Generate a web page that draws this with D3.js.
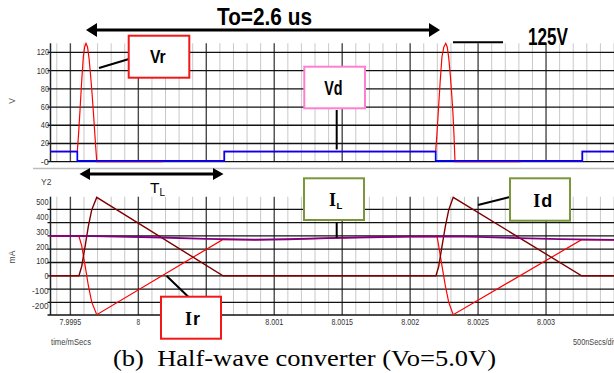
<!DOCTYPE html>
<html>
<head>
<meta charset="utf-8">
<script src="https://cdn.jsdelivr.net/npm/d3@7"></script>
<style>
  body { margin: 0; background: #fff; }
  svg { display: block; }
</style>
</head>
<body>
<svg id="chart" width="614" height="373"></svg>
<script>
// time axis (ms)
const timeTicks  = [7.9995, 8, 8.0005, 8.001, 8.0015, 8.002, 8.0025, 8.003];
// 8.0005 sits under the Ir note in the original, so no label there
const timeLabels = ['7.9995', '8', '', '8.001', '8.0015', '8.002', '8.0025', '8.003'];
// top panel (V)
const voltTicks  = [0, 20, 40, 60, 80, 100, 120];
const voltLabels = ['-0', '20', '40', '60', '80', '100', '120'];
// bottom panel (mA)
const mATicks  = [-200, -100, 0, 100, 200, 300, 400, 500];
const mALabels = ['-200', '-100', '0', '100', '200', '300', '400', '500'];

// [time ms, volts]
const vd = [
  [7.99935, 11], [7.999551, 11], [7.999551, 1], [8.0006325, 1], [8.0006325, 11],
  [8.002188, 11], [8.002188, 1], [8.003267, 1], [8.003267, 11], [8.0035, 11]
];
const vr = [
  [7.99935, 11.5], [7.999551, 11.5], [7.99956, 30], [7.999571, 57], [7.999583, 88],
  [7.999595, 115], [7.999605, 126], [7.999615, 130], [7.999626, 126], [7.999637, 114],
  [7.999648, 96], [7.999659, 76], [7.99967, 53], [7.999681, 28], [7.999694, 0],
  [8.000174, 0], [8.000174, 1], [8.0006325, 1], [8.0006325, 11.5], [8.002188, 11.5],
  [8.002197, 30], [8.002208, 57], [8.002221, 88], [8.002234, 115], [8.002248, 126],
  [8.002262, 130], [8.002273, 126], [8.002284, 114], [8.002295, 96], [8.002305, 76],
  [8.002315, 53], [8.002323, 28], [8.00233, 0], [8.002808, 0], [8.002808, 1],
  [8.003267, 1], [8.003267, 11.5], [8.0035, 11.5]
];

// [time ms, mA]
const id = [
  [7.99935, 0], [7.999563, 0], [7.999583, 70], [7.999608, 220], [7.999632, 371],
  [7.999657, 496], [7.999694, 590], [8.000623, 0], [8.00219, 0], [8.00221, 70],
  [8.002234, 220], [8.002259, 371], [8.002284, 496], [8.002317, 590], [8.003262, 0],
  [8.0035, 0]
];
const il = [
  [7.99935, 300], [7.99967, 298], [8.0001, 290], [8.0005, 278], [8.00086, 271],
  [8.0011, 275], [8.0014, 283], [8.0017, 290], [8.002, 295], [8.0023, 297],
  [8.0025, 292], [8.0028, 284], [8.0031, 276], [8.0035, 270]
];
const ir = [
  [7.99935, 300], [7.999556, 298], [7.999563, 297], [7.999583, 228], [7.999608, 78],
  [7.999632, -73], [7.999657, -198], [7.999694, -293], [8.000623, 274], [8.00086, 271],
  [8.0011, 275], [8.0014, 283], [8.0017, 290], [8.002, 295], [8.002198, 296],
  [8.00221, 226], [8.002234, 76], [8.002259, -75], [8.002284, -200], [8.002317, -293],
  [8.003262, 272], [8.0035, 270]
];

const svg = d3.select('#chart');
const narrow = "'Liberation Sans Narrow', 'Liberation Sans', Arial, sans-serif";

const x = d3.scaleLinear().domain([7.99935, 8.0035]).range([50, 614]);
const yTop = d3.scaleLinear().domain([0, 130]).range([161.7, 43.3]);
const yBot = d3.scaleLinear().domain([-295, 595]).range([315, 196.7]);
// tick text sits a little off the grid in the original
const yBotLabel = d3.scaleLinear().domain([-200, 500]).range([306, 202]);

const minorTicks = d3.range(7.9994, 8.00351, 0.0001)
  .filter(t => !timeTicks.some(m => Math.abs(m - t) < 1e-7));

function grid(y0, y1) {
  const g = svg.append('g');
  g.selectAll('line.minor').data(minorTicks).join('line')
    .attr('x1', d => x(d)).attr('x2', d => x(d))
    .attr('y1', y0).attr('y2', y1)
    .attr('stroke', '#c9c9c9').attr('stroke-width', 1);
  g.selectAll('line.major').data(timeTicks).join('line')
    .attr('x1', d => x(d)).attr('x2', d => x(d))
    .attr('y1', y0).attr('y2', y1)
    .attr('stroke', '#4a4a4a').attr('stroke-width', 1.4);
  return g;
}

// ---- top panel
grid(yTop(130), yTop(0));
svg.append('g').selectAll('line').data(voltTicks).join('line')
  .attr('x1', 47.5).attr('x2', 614)
  .attr('y1', d => yTop(d)).attr('y2', d => yTop(d))
  .attr('stroke', '#111').attr('stroke-width', 1.3);
svg.append('line')
  .attr('x1', 50.5).attr('x2', 50.5).attr('y1', yTop(130)).attr('y2', yTop(0))
  .attr('stroke', '#222').attr('stroke-width', 1.5);
svg.append('g').selectAll('text').data(voltTicks).join('text')
  .attr('x', 49).attr('y', d => yTop(d) + 3)
  .attr('text-anchor', 'end')
  .attr('font-family', narrow).attr('font-size', 8.5).attr('fill', '#333')
  .attr('textLength', (d, i) => voltLabels[i].length * 4.1)
  .attr('lengthAdjust', 'spacingAndGlyphs')
  .text((d, i) => voltLabels[i]);

svg.append('clipPath').attr('id', 'ct').append('rect')
  .attr('x', 50).attr('y', yTop(132)).attr('width', 564).attr('height', yTop(-3) - yTop(132));
const lineTop = d3.line().x(d => x(d[0])).y(d => yTop(d[1]));
const topG = svg.append('g').attr('clip-path', 'url(#ct)');
topG.append('path').attr('d', lineTop(vr))
  .attr('fill', 'none').attr('stroke', '#ff0000').attr('stroke-width', 1.2);
topG.append('path').attr('d', lineTop(vd))
  .attr('fill', 'none').attr('stroke', '#0000ff').attr('stroke-width', 1.7);

// separator
svg.append('line').attr('x1', 33).attr('x2', 614).attr('y1', 168.5).attr('y2', 168.5)
  .attr('stroke', '#bdbdbd').attr('stroke-width', 1.5);

// ---- bottom panel
grid(yBot(595), yBot(-295));
svg.append('g').selectAll('line').data(mATicks).join('line')
  .attr('x1', 47.5).attr('x2', 614)
  .attr('y1', d => yBot(d)).attr('y2', d => yBot(d))
  .attr('stroke', '#111').attr('stroke-width', 1.3);
svg.append('line').attr('x1', 47.5).attr('x2', 614).attr('y1', yBot(-295)).attr('y2', yBot(-295))
  .attr('stroke', '#111').attr('stroke-width', 1.5);
svg.append('line')
  .attr('x1', 50.5).attr('x2', 50.5).attr('y1', yBot(595)).attr('y2', yBot(-295))
  .attr('stroke', '#222').attr('stroke-width', 1.5);
svg.append('g').selectAll('text').data(mATicks).join('text')
  .attr('x', 48.5).attr('y', d => yBotLabel(d) + 3)
  .attr('text-anchor', 'end')
  .attr('font-family', narrow).attr('font-size', 8.5).attr('fill', '#333')
  .attr('textLength', (d, i) => mALabels[i].length * 4.1)
  .attr('lengthAdjust', 'spacingAndGlyphs')
  .text((d, i) => mALabels[i]);

svg.append('g').selectAll('text').data(timeTicks.filter((d, i) => timeLabels[i])).join('text')
  .attr('x', d => x(d)).attr('y', 324.5)
  .attr('text-anchor', 'middle')
  .attr('font-family', narrow).attr('font-size', 9).attr('fill', '#333')
  .attr('textLength', d => timeLabels[timeTicks.indexOf(d)].length * 3.6)
  .attr('lengthAdjust', 'spacingAndGlyphs')
  .text(d => timeLabels[timeTicks.indexOf(d)]);

svg.append('clipPath').attr('id', 'cb').append('rect')
  .attr('x', 50).attr('y', yBot(600)).attr('width', 564).attr('height', yBot(-300) - yBot(600));
const lineBot = d3.line().x(d => x(d[0])).y(d => yBot(d[1]));
const botG = svg.append('g').attr('clip-path', 'url(#cb)');
botG.append('path').attr('d', lineBot(ir))
  .attr('fill', 'none').attr('stroke', '#ff0000').attr('stroke-width', 1.2);
botG.append('path').attr('d', lineBot(id))
  .attr('fill', 'none').attr('stroke', '#800000').attr('stroke-width', 1.4);
botG.append('path').attr('d', lineBot(il))
  .attr('fill', 'none').attr('stroke', '#800080').attr('stroke-width', 1.8);

// ---- axis names
const small = (tx, ty, s, rot) => svg.append('text')
  .attr('transform', `translate(${tx},${ty})` + (rot ? ' rotate(-90)' : ''))
  .attr('text-anchor', rot ? 'middle' : 'start')
  .attr('font-family', narrow).attr('font-size', 8.5).attr('fill', '#444')
  .text(s);
small(15, 101, 'V', true);
small(15, 257, 'mA', true);
small(41, 185, 'Y2', false);
small(51, 345, 'time/mSecs', false).attr('textLength', 40).attr('lengthAdjust', 'spacingAndGlyphs');
small(573, 345, '500nSecs/div', false).attr('textLength', 44).attr('lengthAdjust', 'spacingAndGlyphs');

// ---- annotations
const ann = svg.append('g');
function arrow(x0, x1, y, head, half) {
  ann.append('line').attr('x1', x0 + head - 1).attr('x2', x1 - head + 1).attr('y1', y).attr('y2', y)
    .attr('stroke', '#000').attr('stroke-width', 2.8);
  ann.append('path').attr('d', `M${x0},${y}L${x0 + head},${y - half}L${x0 + head},${y + half}Z`).attr('fill', '#000');
  ann.append('path').attr('d', `M${x1},${y}L${x1 - head},${y - half}L${x1 - head},${y + half}Z`).attr('fill', '#000');
}
arrow(86, 440, 30, 11, 7);
arrow(79.5, 223.5, 174, 10.5, 6);

function seg(x1, y1, x2, y2) {
  ann.append('line').attr('x1', x1).attr('y1', y1).attr('x2', x2).attr('y2', y2)
    .attr('stroke', '#000').attr('stroke-width', 2);
}
seg(99, 68, 129, 59);
seg(336.7, 110, 336.7, 149.5);
seg(336.7, 222, 336.7, 238);
seg(478, 205, 510, 197);
seg(166.7, 276, 188.5, 297);
seg(453, 42.3, 503, 42.3);

function box(bx, by, w, h, color) {
  ann.append('rect').attr('x', bx).attr('y', by).attr('width', w).attr('height', h)
    .attr('fill', '#fff').attr('stroke', color).attr('stroke-width', 2);
}
box(128.7, 35.7, 60.6, 42, '#f21818');
box(304.3, 66.7, 60.7, 41.6, '#ff7fcf');
box(304, 178.3, 60, 41.7, '#7a983a');
box(510, 178.3, 60, 42.4, '#7a983a');
box(161, 296.7, 60, 42, '#f21818');

function bold(tx, ty, s, size, len) {
  return ann.append('text').attr('x', tx).attr('y', ty)
    .attr('font-family', narrow).attr('font-weight', 'bold').attr('font-size', size)
    .attr('fill', '#000')
    .attr('textLength', len).attr('lengthAdjust', 'spacingAndGlyphs')
    .text(s);
}
bold(217, 25, 'To=2.6 us', 23, 95);
bold(528, 45, '125V', 24, 40);
bold(150, 62.7, 'Vr', 19, 15.7);
bold(324.3, 95, 'Vd', 19.5, 18.3);

function iLabel(tx, ty, rest, sub) {
  const t = ann.append('text').attr('x', tx).attr('y', ty).attr('fill', '#000').attr('font-weight', 'bold');
  t.append('tspan').attr('font-family', "'Liberation Serif', serif").attr('font-size', 18).text('I');
  if (sub) {
    t.append('tspan').attr('font-family', narrow).attr('font-size', 9.5).attr('dx', 0.5).attr('dy', 2.5).text(rest);
  } else {
    t.append('tspan').attr('font-family', narrow).attr('font-size', 18).attr('dx', 1).text(rest);
  }
}
iLabel(329, 206, 'L', true);
iLabel(533.3, 206.7, 'd', false);
iLabel(185, 325, 'r', false);

const tl = ann.append('text').attr('x', 150).attr('y', 193).attr('font-family', "'Liberation Sans', Arial, sans-serif").attr('fill', '#000');
tl.append('tspan').attr('font-size', 15.5).text('T');
tl.append('tspan').attr('font-size', 10).attr('dy', 3).text('L');

// caption
svg.append('text').attr('x', 113).attr('y', 365.5)
  .attr('font-family', "'Liberation Serif', 'Times New Roman', serif").attr('font-size', 23.5)
  .attr('fill', '#000').style('white-space', 'pre')
  .attr('textLength', 383).attr('lengthAdjust', 'spacingAndGlyphs')
  .text('(b)  Half-wave converter (Vo=5.0V)');
</script>
</body>
</html>
